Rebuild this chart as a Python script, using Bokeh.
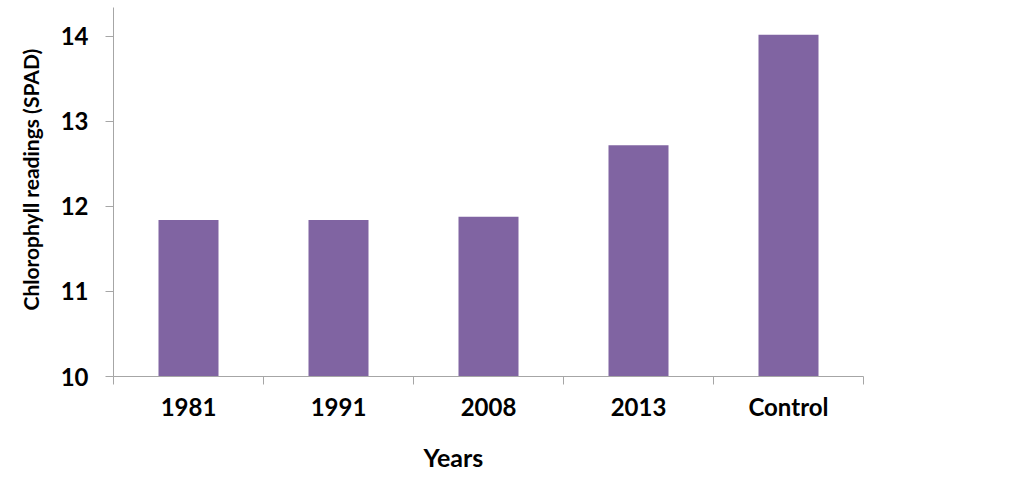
from bokeh.plotting import figure
from bokeh.models import Range1d, FixedTicker, Title, ColumnDataSource
from bokeh.embed import file_html
from bokeh.resources import INLINE

categories = ["1981", "1991", "2008", "2013", "Control"]
values = [11.84, 11.84, 11.88, 12.72, 14.02]
y_ticks = [10, 11, 12, 13, 14]

centers = [i + 0.5 for i in range(len(categories))]
bounds = [i for i in range(len(categories) + 1)]

FONT = "Lato"
AXIS_COLOR = "#a6a6a6"

p = figure(width=1022, height=504, output_backend="svg", toolbar_location=None,
           x_range=Range1d(0, len(categories)), y_range=Range1d(10, 14.34),
           min_border_left=113, min_border_right=159, min_border_top=7, min_border_bottom=128)
p.outline_line_color = None
p.grid.grid_line_color = None
p.background_fill_color = "white"
p.border_fill_color = "white"

src = ColumnDataSource(dict(x=centers, top=values))
p.vbar(x="x", top="top", bottom=10, width=0.4, source=src, fill_color="#8064A2", line_color=None)

xa = p.xaxis[0]
xa.ticker = FixedTicker(ticks=centers, minor_ticks=bounds)
xa.major_label_overrides = {c: cat for c, cat in zip(centers, categories)}
xa.major_tick_line_color = None
xa.minor_tick_line_color = AXIS_COLOR
xa.minor_tick_out = 8
xa.minor_tick_in = 0
xa.axis_line_color = AXIS_COLOR
xa.major_label_text_font = FONT
xa.major_label_text_font_style = "bold"
xa.major_label_text_font_size = "24px"
xa.major_label_text_color = "black"
xa.major_label_standoff = 7

ya = p.yaxis[0]
ya.ticker = FixedTicker(ticks=y_ticks, minor_ticks=[])
ya.major_tick_line_color = AXIS_COLOR
ya.major_tick_out = 8
ya.major_tick_in = 0
ya.minor_tick_line_color = None
ya.axis_line_color = AXIS_COLOR
ya.major_label_text_font = FONT
ya.major_label_text_font_style = "bold"
ya.major_label_text_font_size = "24px"
ya.major_label_text_color = "black"
ya.major_label_standoff = 17

p.add_layout(Title(text="Chlorophyll readings  (SPAD)", align="left", offset=66, standoff=30,
                   text_font=FONT, text_font_style="bold", text_font_size="21px",
                   text_color="black"), "left")
p.add_layout(Title(text="Years", align="left", offset=310, standoff=32,
                   text_font=FONT, text_font_style="bold", text_font_size="25px",
                   text_color="black"), "below")

open("out.html", "w").write(file_html(p, INLINE))
